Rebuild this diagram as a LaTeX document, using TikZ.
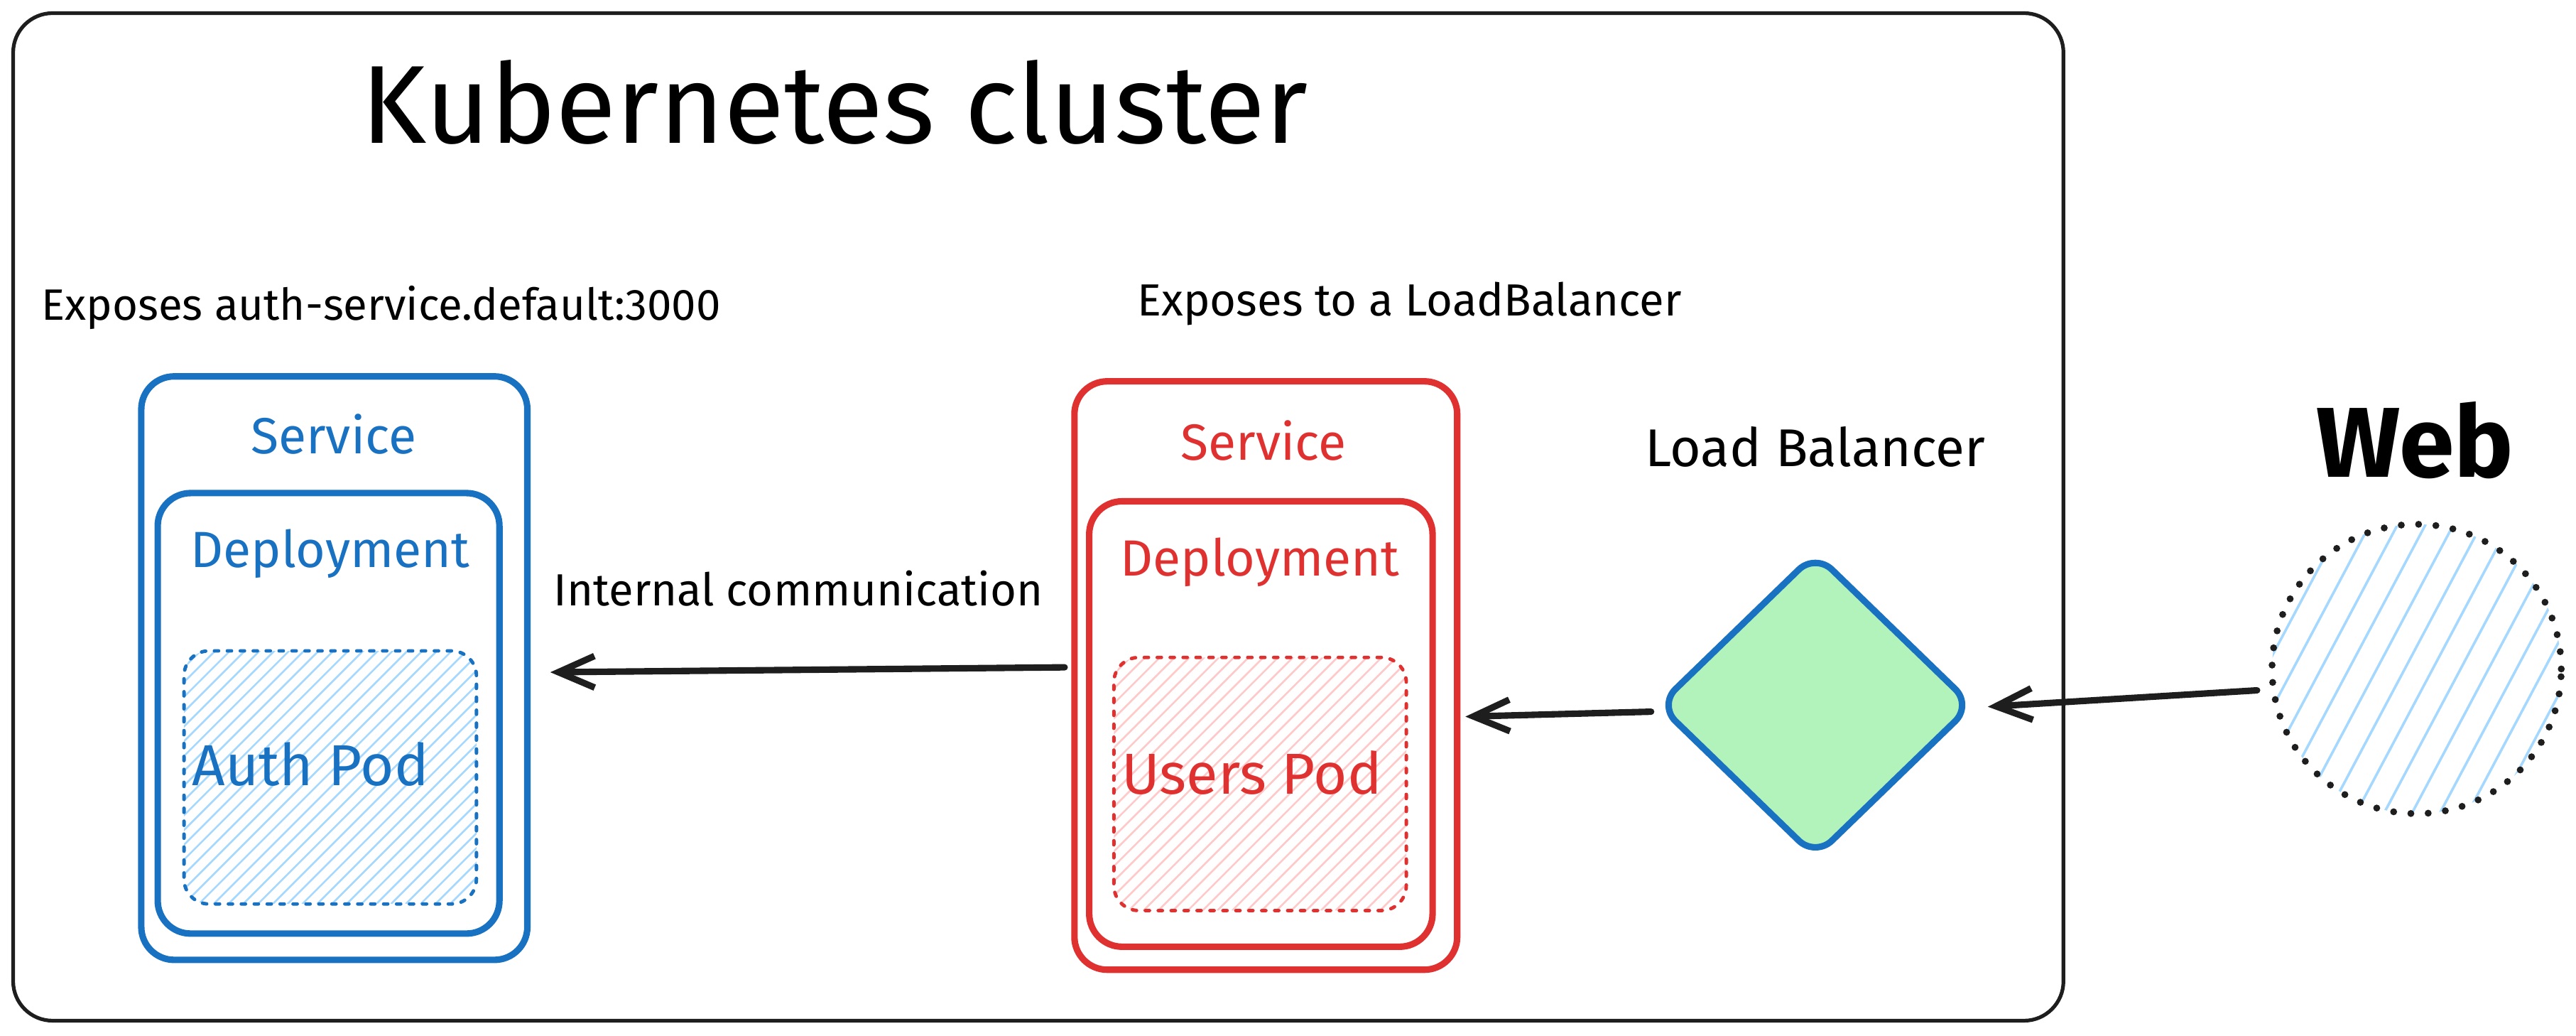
\documentclass[tikz,border=0pt]{standalone}
\usepackage{fontspec}
\setmainfont{Fira Sans}
\usetikzlibrary{arrows.meta,shapes.geometric,fit,calc}
\definecolor{kblue}{HTML}{1971C2}
\definecolor{kred}{HTML}{E03131}
\definecolor{khatchblue}{HTML}{A5D8FF}
\definecolor{khatchred}{HTML}{FFC9C9}
\definecolor{kgreen}{HTML}{B2F2BB}
\definecolor{kink}{HTML}{1E1E1E}
\begin{document}
\begin{tikzpicture}[x=0.025cm,y=-0.025cm,
  cluster/.style={draw=kink, line width=1.6pt, rounded corners=0.6cm, inner sep=0pt},
  svcbox/.style={draw=#1, line width=2.8pt, rounded corners=0.5cm, inner sep=0pt},
  podbox/.style={draw=#1, line width=1.5pt, dash pattern=on 1.8pt off 3.8pt, line cap=round, rounded corners=0.38cm, inner sep=0pt},
  hatchdiag/.style={path picture={\foreach \k in {-20,...,22}{\draw[#1, solid, line width=0.8pt, line cap=butt] ($(path picture bounding box.south west)+(\k*9,0)$) -- ++(220,-220);}}},
  hatchsteep/.style={path picture={\foreach \k in {-8,...,12}{\draw[#1, solid, line width=1.1pt, line cap=butt] ($(path picture bounding box.south west)+(\k*17,0)$) -- ++(110,-207);}}},
  lbl/.style={font=\fontsize{#1pt}{#1pt}\selectfont, inner sep=0pt},
  arr/.style={draw=kink, line width=2.8pt, line cap=round, -{Straight Barb[length=0.55cm, width=0.48cm, line width=2.8pt]}}
]
\useasboundingbox (0,0) rectangle (1568,630);

% cluster
\node[cluster, fit={(8,8) (1256,621)}] (clu) {};
\node[lbl=48] (ttl) at (508,62) {Kubernetes cluster};
\node[lbl=19] (expauth) at (232,187) {Exposes auth-service.default:3000};
\node[lbl=19.5] (explb) at (858,185) {Exposes to a LoadBalancer};

% blue service
\node[svcbox=kblue, fit={(86,229) (321,584)}] (bsvc) {};
\node[svcbox=kblue, fit={(96,300) (304,568)}] (bdep) {};
\node[podbox=kblue, hatchdiag=khatchblue, fit={(112,396) (290,550)}] (bpod) {};
\node[lbl=22, text=kblue] (bsvct) at (203,264) {Service};
\node[lbl=22, text=kblue] (bdept) at (201,337) {Deployment};
\node[lbl=25, text=kblue] (bpodt) at (189,465) {Auth Pod};

% red service
\node[svcbox=kred, fit={(654,232) (887,590)}] (rsvc) {};
\node[svcbox=kred, fit={(663,305) (872,576)}] (rdep) {};
\node[podbox=kred, hatchdiag=khatchred, fit={(678,400) (856,554)}] (rpod) {};
\node[lbl=22, text=kred] (rsvct) at (769,268) {Service};
\node[lbl=22, text=kred] (rdept) at (767,342) {Deployment};
\node[lbl=25, text=kred] (rpodt) at (762,470) {Users Pod};

% load balancer
\node[lbl=23] (lbt) at (1105,272) {Load Balancer};
\node[diamond, draw=kblue, fill=kgreen, line width=2.8pt, rounded corners=0.35cm,
      minimum width=4.8cm, minimum height=4.65cm, inner sep=0pt] (lb) at (1105,429) {};

% web
\node[font=\fontsize{43pt}{43pt}\selectfont\bfseries, inner sep=0pt] (webt) at (1470,268) {Web};
\node[circle, draw=kink, line width=3pt, dash pattern=on 0pt off 7.5pt, line cap=round,
      minimum size=4.4cm, inner sep=0pt, hatchsteep=khatchblue] (web) at (1471,407) {};

% connectors
\draw[arr] ($(rsvc.west)+(-4,-5)$) -- ($(bsvc.east)+(12,2.5)$);
\node[lbl=19.5] (intl) at (486,358) {Internal communication};
\draw[arr] ($(lb.west)+(-2,4)$) -- ($(rsvc.east)+(3,25)$);
\draw[arr] ($(web.west)+(-7,13)$) -- ($(lb.east)+(7,1)$);
\end{tikzpicture}
\end{document}
